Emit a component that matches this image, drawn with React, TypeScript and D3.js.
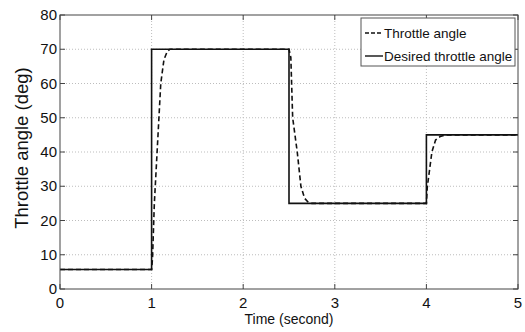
import React from 'react';
import * as d3 from 'd3';

// desired (reference) throttle angle - step profile
const desiredTime = [0, 1, 1, 2.5, 2.5, 4, 4, 5];
const desiredAngle = [5.7, 5.7, 70, 70, 25, 25, 45, 45];

const actualTime = [0, 1.0, 1.01, 1.03, 1.06, 1.1, 1.135, 1.17, 1.2, 1.25, 2.5, 2.52, 2.54, 2.59, 2.63, 2.67, 2.71, 2.75, 4.0, 4.01, 4.06, 4.1, 4.15, 4.2, 4.25, 5];
const actualAngle = [5.7, 5.7, 9, 25, 40, 60, 67, 69.3, 70, 70, 70, 67.6, 50, 40, 30, 26.5, 25.3, 25, 25, 29.8, 40, 43.5, 44.5, 44.9, 45, 45];

const xTicks = [0, 1, 2, 3, 4, 5];
const yTicks = [0, 10, 20, 30, 40, 50, 60, 70, 80];

const W = 525;
const H = 332;
const left = 60, right = 518, top = 15, bottom = 289;
const font = 'Liberation Sans, Arial, sans-serif';

const App = () => {
  const x = d3.scaleLinear().domain([0, 5]).range([left, right]);
  const y = d3.scaleLinear().domain([0, 80]).range([bottom, top]);

  const line = d3.line<[number, number]>()
    .x(d => x(d[0]))
    .y(d => y(d[1]));

  const desired = desiredTime.map((t, i) => [t, desiredAngle[i]] as [number, number]);
  const actual = actualTime.map((t, i) => [t, actualAngle[i]] as [number, number]);

  return (
    <svg width={W} height={H} style={{ position: 'absolute', left: 0, top: 0, background: '#fff' }}>
      <rect x={0} y={0} width={W} height={H} fill="#fff" />
      {/* gridlines */}
      {xTicks.slice(1, -1).map(t => (
        <line key={'gx' + t} x1={x(t)} x2={x(t)} y1={top} y2={bottom}
          stroke="#bdbdbd" strokeWidth={1} strokeDasharray="1 2" />
      ))}
      {yTicks.slice(1, -1).map(t => (
        <line key={'gy' + t} x1={left} x2={right} y1={y(t)} y2={y(t)}
          stroke="#bdbdbd" strokeWidth={1} strokeDasharray="1 2" />
      ))}

      {/* ticks inward */}
      {xTicks.map(t => (
        <g key={'tx' + t}>
          <line x1={x(t)} x2={x(t)} y1={bottom} y2={bottom - 5} stroke="#444" />
          <line x1={x(t)} x2={x(t)} y1={top} y2={top + 5} stroke="#444" />
          <text x={x(t)} y={bottom + 19} textAnchor="middle" fontFamily={font} fontSize={15} fill="#111">{t}</text>
        </g>
      ))}
      {yTicks.map(t => (
        <g key={'ty' + t}>
          <line x1={left} x2={left + 5} y1={y(t)} y2={y(t)} stroke="#444" />
          <line x1={right} x2={right - 5} y1={y(t)} y2={y(t)} stroke="#444" />
          <text x={left - 3} y={y(t) + 5} textAnchor="end" fontFamily={font} fontSize={15} fill="#111">{t}</text>
        </g>
      ))}

      {/* data */}
      <path d={line(desired) || ''} fill="none" stroke="#111" strokeWidth={1.6} />
      <path d={line(actual) || ''} fill="none" stroke="#111" strokeWidth={1.6} strokeDasharray="5 3" />

      {/* box */}
      <rect x={left} y={top} width={right - left} height={bottom - top} fill="none" stroke="#444" strokeWidth={1} />

      {/* legend */}
      <rect x={361} y={18} width={154} height={48} fill="#fff" stroke="#555" strokeWidth={1} />
      <line x1={365} x2={383} y1={33} y2={33} stroke="#111" strokeWidth={1.4} strokeDasharray="4 2" />
      <text x={384} y={38} fontFamily={font} fontSize={13.5} fill="#111">Throttle angle</text>
      <line x1={365} x2={383} y1={56} y2={56} stroke="#111" strokeWidth={1.4} />
      <text x={384} y={61} fontFamily={font} fontSize={13.5} fill="#111">Desired throttle angle</text>

      {/* axis labels */}
      <text x={(left + right) / 2} y={324} textAnchor="middle" fontFamily={font} fontSize={14} fill="#111">Time (second)</text>
      <text transform={`translate(28,148) rotate(-90)`} textAnchor="middle" fontFamily={font} fontSize={18.5} fill="#111">Throttle angle (deg)</text>
    </svg>
  );
};

export default App;
